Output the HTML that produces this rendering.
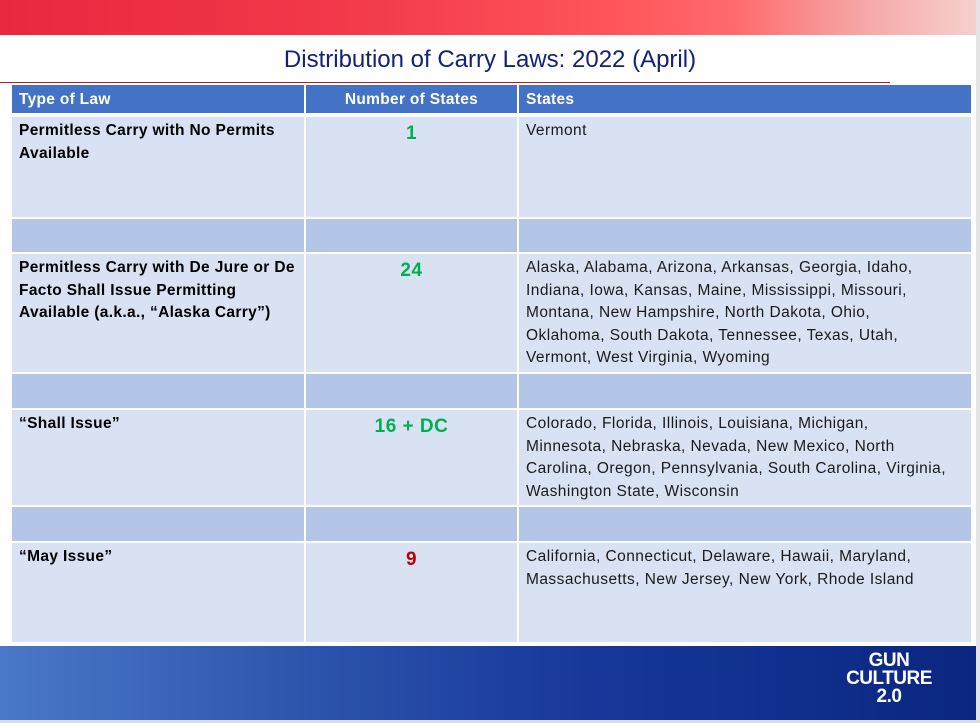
<!DOCTYPE html>
<html><head><meta charset="utf-8"><style>
*{margin:0;padding:0;box-sizing:border-box}
body{width:980px;height:723px;background:#fff;position:relative;overflow:hidden;font-family:"Liberation Sans",sans-serif}
.top{position:absolute;left:0;top:0;width:980px;height:35px;background:linear-gradient(90deg,#e8283f 0%,#f2394a 35%,#ff5459 62%,#ff6a6c 75%,#f6a6a6 88%,#f5d2d0 100%)}
.title{position:absolute;left:0;width:980px;top:46px;text-align:center;font-size:24px;color:#14217a}
.rl{position:absolute;left:0;top:82px;width:890px;height:1px;background:#b02030}
.c{position:absolute;font-size:15.5px;letter-spacing:0.45px;line-height:22.5px;color:#1a1a1a;padding:3px 0 0 7px;white-space:nowrap}
.h{background:#4472c4;color:#fff;font-weight:bold;padding-top:4px;letter-spacing:0.3px}
.l{background:#d9e2f3}
.d{background:#b4c6e7}
.b{font-weight:bold;color:#000;letter-spacing:0.35px}
.n{text-align:center;padding-left:0;font-weight:bold;font-size:19px;padding-top:6px;letter-spacing:0.5px}
.g{color:#00b050}.r{color:#c00000}
.foot{position:absolute;left:0;top:646px;width:976px;height:74px;background:linear-gradient(90deg,#4a78c8 0%,#2e56ad 30%,#17389a 60%,#0a2680 100%)}
.side{position:absolute;left:976px;top:0;width:4px;height:723px;background:#e4e4e4}
.bot{position:absolute;left:0;top:720px;width:980px;height:3px;background:#dcdcdc}
.logo{position:absolute;left:839px;top:652px;width:100px;text-align:center;color:#fff;font-weight:bold;font-size:19px;line-height:18px;letter-spacing:-0.5px}
</style></head><body>
<div class="top"></div>
<div class="side"></div>
<div class="title">Distribution of Carry Laws: 2022 (April)</div>
<div class="rl"></div>

<div class="c h" style="left:12px;top:85px;width:292px;height:28px">Type of Law</div>
<div class="c h" style="left:306px;top:85px;width:211px;height:28px;text-align:center;padding-left:0">Number of States</div>
<div class="c h" style="left:519px;top:85px;width:452px;height:28px">States</div>

<div class="c l b" style="left:12px;top:117px;width:292px;height:100px">Permitless Carry with No Permits<br>Available</div>
<div class="c l n g" style="left:306px;top:117px;width:211px;height:100px">1</div>
<div class="c l" style="left:519px;top:117px;width:452px;height:100px">Vermont</div>

<div class="c d" style="left:12px;top:219px;width:292px;height:33px"></div>
<div class="c d" style="left:306px;top:219px;width:211px;height:33px"></div>
<div class="c d" style="left:519px;top:219px;width:452px;height:33px"></div>

<div class="c l b" style="left:12px;top:254px;width:292px;height:118px">Permitless Carry with De Jure or De<br>Facto Shall Issue Permitting<br>Available (a.k.a., “Alaska Carry”)</div>
<div class="c l n g" style="left:306px;top:254px;width:211px;height:118px">24</div>
<div class="c l" style="left:519px;top:254px;width:452px;height:118px">Alaska, Alabama, Arizona, Arkansas, Georgia, Idaho,<br>Indiana, Iowa, Kansas, Maine, Mississippi, Missouri,<br>Montana, New Hampshire, North Dakota, Ohio,<br>Oklahoma, South Dakota, Tennessee, Texas, Utah,<br>Vermont, West Virginia, Wyoming</div>

<div class="c d" style="left:12px;top:374px;width:292px;height:34px"></div>
<div class="c d" style="left:306px;top:374px;width:211px;height:34px"></div>
<div class="c d" style="left:519px;top:374px;width:452px;height:34px"></div>

<div class="c l b" style="left:12px;top:410px;width:292px;height:95px">“Shall Issue”</div>
<div class="c l n g" style="left:306px;top:410px;width:211px;height:95px">16 + DC</div>
<div class="c l" style="left:519px;top:410px;width:452px;height:95px">Colorado, Florida, Illinois, Louisiana, Michigan,<br>Minnesota, Nebraska, Nevada, New Mexico, North<br>Carolina, Oregon, Pennsylvania, South Carolina, Virginia,<br>Washington State, Wisconsin</div>

<div class="c d" style="left:12px;top:507px;width:292px;height:34px"></div>
<div class="c d" style="left:306px;top:507px;width:211px;height:34px"></div>
<div class="c d" style="left:519px;top:507px;width:452px;height:34px"></div>

<div class="c l b" style="left:12px;top:543px;width:292px;height:99px">“May Issue”</div>
<div class="c l n r" style="left:306px;top:543px;width:211px;height:99px">9</div>
<div class="c l" style="left:519px;top:543px;width:452px;height:99px">California, Connecticut, Delaware, Hawaii, Maryland,<br>Massachusetts, New Jersey, New York, Rhode Island</div>

<div class="foot"></div>
<div class="logo">GUN<br>CULTURE<br>2.0</div>
<div class="bot"></div>
</body></html>
